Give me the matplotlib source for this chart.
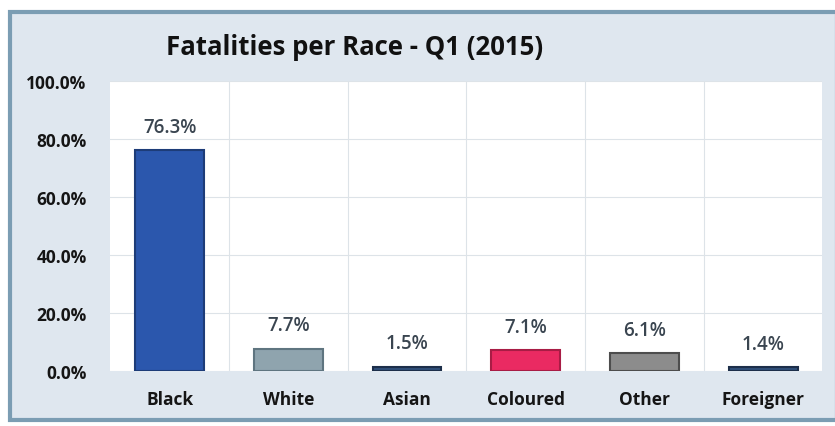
import matplotlib.pyplot as plt
from matplotlib.patches import Rectangle
from matplotlib.ticker import FuncFormatter

# values
races = ["Black", "White", "Asian", "Coloured", "Other", "Foreigner"]
fatality_pct = [76.3, 7.7, 1.5, 7.1, 6.1, 1.4]
bar_colors = ["#2b57ad", "#8fa4ae", "#2f4f7a", "#ea2a62", "#8c8c8c", "#2f4f7a"]
edge_colors = ["#1d3c78", "#5f7580", "#1d2f4a", "#a81c45", "#4d4d4d", "#1d2f4a"]
y_ticks = [0, 20, 40, 60, 80, 100]

plt.rcParams["font.family"] = ["Open Sans", "DejaVu Sans"]

fig = plt.figure(figsize=(8.35, 4.27), dpi=100)
fig.patch.set_facecolor("white")

# chart-area frame like the scanned Excel chart
frame = Rectangle((0.012, 0.015), 0.99, 0.955, transform=fig.transFigure,
                  facecolor="#dfe7ef", edgecolor="#7b9db3", linewidth=3, zorder=-5)
fig.add_artist(frame)

ax = fig.add_axes([0.132, 0.129, 0.853, 0.679])
ax.set_zorder(2)
ax.set_facecolor("white")

x = range(len(races))
ax.bar(x, fatality_pct, width=0.58, color=bar_colors, edgecolor=edge_colors,
       linewidth=1.5, zorder=3)

for xi, v in zip(x, fatality_pct):
    ax.text(xi, v + 8, f"{v:.1f}%", ha="center", va="center",
            fontsize=13.5, fontweight="semibold", color="#3a4550", zorder=4)

ax.set_xlim(-0.5, len(races) - 0.5)
ax.set_ylim(0, 100)
ax.set_yticks(y_ticks)
ax.yaxis.set_major_formatter(FuncFormatter(lambda v, p: f"{v:.1f}%"))
ax.set_xticks(list(x))
ax.set_xticklabels(races)

# vertical gridlines sit between categories
ax.set_xticks([i + 0.5 for i in range(len(races) - 1)], minor=True)
ax.grid(axis="x", which="minor", color="#dde3e8", linewidth=0.8, zorder=0)
ax.grid(axis="y", which="major", color="#dde3e8", linewidth=0.8, zorder=0)
ax.set_axisbelow(True)

ax.tick_params(axis="both", which="both", length=0)
ax.tick_params(axis="y", labelsize=12.5, pad=17)
ax.tick_params(axis="x", labelsize=12.5, pad=14)
for lbl in ax.get_xticklabels() + ax.get_yticklabels():
    lbl.set_fontweight("bold")
    lbl.set_color("#151515")

for s in ax.spines.values():
    s.set_visible(False)

fig.text(0.425, 0.888, "Fatalities per Race - Q1 (2015)", ha="center", va="center",
         fontsize=18.5, fontweight="bold", color="#111111")

fig.savefig("out.png", dpi=100, facecolor=fig.get_facecolor())
